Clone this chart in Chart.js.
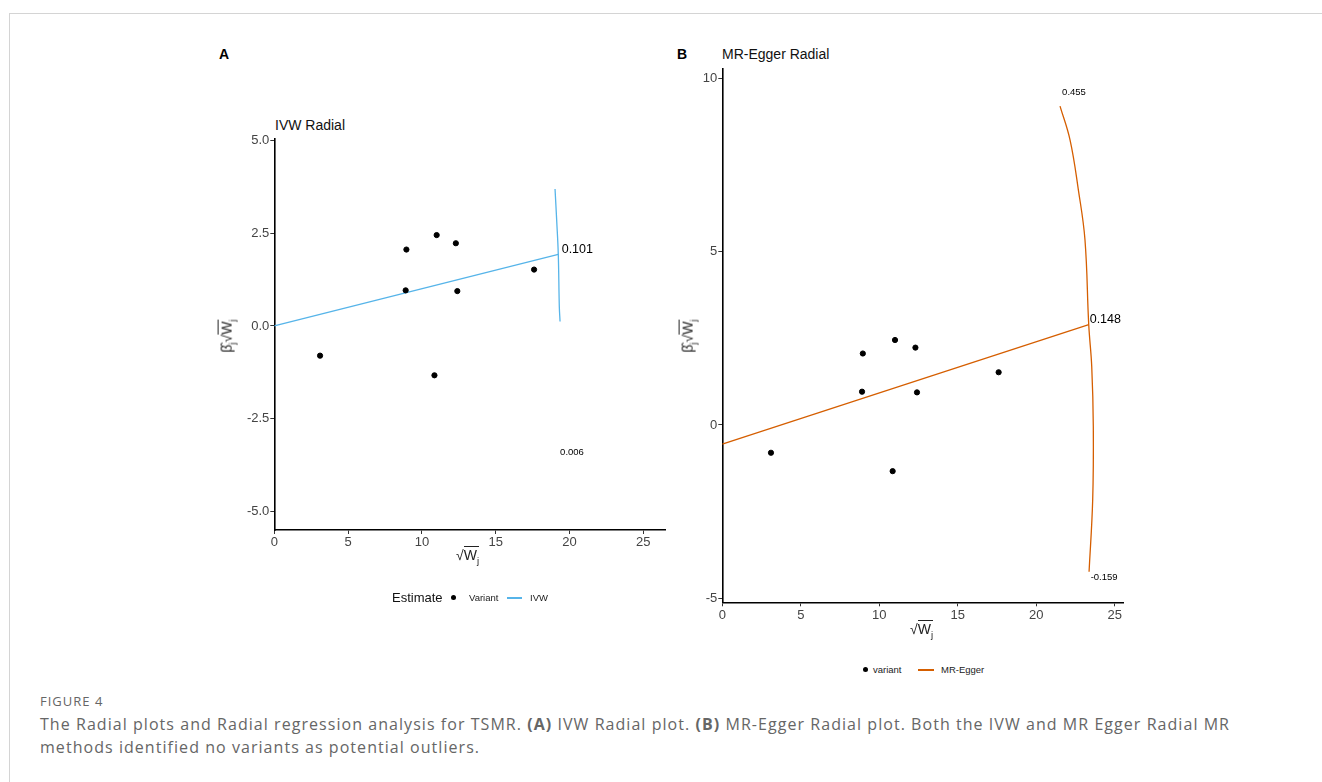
<!DOCTYPE html>
<html>
<head>
<meta charset="utf-8">
<script src="https://cdn.jsdelivr.net/npm/chart.js@4.4.1/dist/chart.umd.min.js"></script>
<style>
  body { margin: 0; background: #fff; font-family: "Liberation Sans", Arial, sans-serif; }
  #page { position: relative; width: 1322px; height: 782px; overflow: hidden; }
  .frame-top { position: absolute; left: 10px; top: 13px; right: 0; height: 1px; background: #d4d4d4; }
  .frame-left { position: absolute; left: 9px; top: 13px; bottom: 0; width: 1px; background: #d4d4d4; }
  canvas { position: absolute; }
  .txt { position: absolute; white-space: nowrap; color: #000; }
  .panel-tag { font-weight: bold; font-size: 14px; }
  .ptitle { font-size: 14px; color: #111; }
  .axt { font-size: 14px; color: #222; }
  .ov { border-top: 1px solid #222; }
  .axt sub { font-size: 9.5px; }
  .ytitle { transform: translate(-50%, -50%) rotate(-90deg); }
  .leg { font-size: 9.5px; color: #222; }
  .legtitle { font-size: 13px; color: #111; }
  .dot { position: absolute; width: 5px; height: 5px; border-radius: 50%; background: #000; }
  .seg { position: absolute; height: 1.5px; }
  .cap { position: absolute; left: 40px; font-family: "Open Sans", sans-serif; color: #666; }
</style>
</head>
<body>
<div id="page">
  <div class="frame-top"></div>
  <div class="frame-left"></div>

  <div class="txt panel-tag" style="left:219px; top:46px;">A</div>
  <div class="txt panel-tag" style="left:677px; top:46px;">B</div>
  <div class="txt ptitle" style="left:275px; top:117px;">IVW Radial</div>
  <div class="txt ptitle" style="left:722px; top:46px;">MR-Egger Radial</div>

  <canvas id="chartA" width="480" height="450" style="left:200px; top:100px;"></canvas>
  <canvas id="chartB" width="480" height="580" style="left:660px; top:40px;"></canvas>

  <!-- axis titles -->
  <div class="txt axt" style="left:456px; top:547px;">&radic;<span class="ov">W<sub>j</sub></span></div>
  <div class="txt axt" style="left:910px; top:621px;">&radic;<span class="ov">W<sub>j</sub></span></div>
  <div class="txt axt ytitle" style="left:228px; top:336px;">&beta;&#770;<sub>j</sub>&radic;<span class="ov">W<sub>j</sub></span></div>
  <div class="txt axt ytitle" style="left:689px; top:336px;">&beta;&#770;<sub>j</sub>&radic;<span class="ov">W<sub>j</sub></span></div>

  <!-- legends -->
  <div class="txt legtitle" style="left:392px; top:590px;">Estimate</div>
  <div class="dot" style="left:451px; top:595px;"></div>
  <div class="txt leg" style="left:469px; top:592px;">Variant</div>
  <div class="seg" style="left:507px; top:597px; width:15px; background:#56B4E9;"></div>
  <div class="txt leg" style="left:530px; top:592px;">IVW</div>

  <div class="dot" style="left:863px; top:667px;"></div>
  <div class="txt leg" style="left:873px; top:664px;">variant</div>
  <div class="seg" style="left:918px; top:669px; width:16px; background:#D55E00;"></div>
  <div class="txt leg" style="left:941px; top:664px;">MR-Egger</div>

  <div class="cap" style="top:692px; font-size:13px; letter-spacing:1px;">FIGURE 4</div>
  <div class="cap" style="top:713px; font-size:16px; line-height:23px; letter-spacing:1.05px; width:1270px;">The Radial plots and Radial regression analysis for TSMR. <b>(A)</b> IVW Radial plot. <b>(B)</b> MR-Egger Radial plot. Both the IVW and MR Egger Radial MR<br>methods identified no variants as potential outliers.</div>
</div>

<script>
// variant estimates (sqrt(W_j), beta_j * sqrt(W_j))
const sqrtW = [3.1, 8.9, 8.95, 10.85, 11.0, 12.3, 12.4, 17.6];
const betaSqrtW = [-0.8, 0.96, 2.06, -1.33, 2.45, 2.23, 0.94, 1.52];

// IVW fit line and its arc
const ivwLineX = [0, 19.24];
const ivwLineY = [0, 1.93];
const ivwArcX = [19.02, 19.13, 19.24, 19.31, 19.36];
const ivwArcY = [3.69, 2.86, 1.93, 0.52, 0.12];

// MR-Egger fit line and its arc
const eggerLineX = [0, 23.34];
const eggerLineY = [-0.55, 2.89];
const eggerArcX = [21.51, 22.15, 22.68, 23.10, 23.34, 23.53, 23.63, 23.59, 23.36];
const eggerArcY = [9.19, 8.21, 6.77, 5.33, 2.88, 1.68, -0.05, -2.16, -4.23];

// tick labels
const xTicks = [0, 5, 10, 15, 20, 25];
const yTicksA = [-5, -2.5, 0, 2.5, 5];
const yTicksB = [-5, 0, 5, 10];

// estimate labels printed on the plots
const notesA = [
    { text: '0.101', x: 19.47, y: 2.05, size: 12.5, align: 'left' },
    { text: '0.006', x: 20.17, y: -3.41, size: 9.5, align: 'center' }
];
const notesB = [
    { text: '0.455', x: 22.4, y: 9.59, size: 9.5, align: 'center' },
    { text: '0.148', x: 23.4, y: 3.03, size: 12.5, align: 'left' },
    { text: '-0.159', x: 24.32, y: -4.4, size: 9.5, align: 'center' }
];

const zip = (xs, ys) => xs.map((x, i) => ({ x: x, y: ys[i] }));

// draws the small number labels at data coordinates
const notesPlugin = {
    id: 'notes',
    afterDatasetsDraw(chart, args, opts) {
        const ctx = chart.ctx;
        const xs = chart.scales.x, ys = chart.scales.y;
        ctx.save();
        ctx.fillStyle = '#000';
        ctx.textBaseline = 'middle';
        (opts.items || []).forEach(n => {
            ctx.font = n.size + 'px "Liberation Sans", Arial, sans-serif';
            ctx.textAlign = n.align;
            ctx.fillText(n.text, xs.getPixelForValue(n.x), ys.getPixelForValue(n.y));
        });
        ctx.restore();
    }
};

function makePanel(id, cfg) {
    const tickFont = { family: '"Liberation Sans", Arial, sans-serif', size: 13 };
    return new Chart(document.getElementById(id), {
        type: 'scatter',
        data: {
            datasets: [{
                label: 'Variant',
                data: zip(sqrtW, betaSqrtW),
                backgroundColor: '#000',
                borderColor: '#000',
                pointRadius: 2.6,
                order: 0
            }, {
                type: 'line',
                data: zip(cfg.lineX, cfg.lineY),
                borderColor: cfg.color,
                borderWidth: 1.3,
                pointRadius: 0,
                fill: false,
                order: 1
            }, {
                type: 'line',
                data: zip(cfg.arcX, cfg.arcY),
                borderColor: cfg.color,
                borderWidth: 1.3,
                pointRadius: 0,
                tension: 0.4,
                fill: false,
                order: 1
            }]
        },
        options: {
            responsive: false,
            animation: false,
            layout: { padding: cfg.padding },
            plugins: {
                legend: { display: false },
                tooltip: { enabled: false },
                notes: { items: cfg.notes }
            },
            scales: {
                x: {
                    type: 'linear',
                    min: 0,
                    max: cfg.xMax,
                    afterFit: s => { s.height = cfg.xAxisHeight; },
                    afterBuildTicks: s => { s.ticks = xTicks.map(v => ({ value: v })); },
                    border: { display: true, color: '#000', width: 1.6 },
                    grid: { drawOnChartArea: false, drawTicks: true, tickLength: 4, color: '#333' },
                    ticks: { font: tickFont, color: '#444', padding: 1, maxRotation: 0, autoSkip: false }
                },
                y: {
                    type: 'linear',
                    min: cfg.yMin,
                    max: cfg.yMax,
                    afterFit: s => { s.width = cfg.yAxisWidth; },
                    afterBuildTicks: s => { s.ticks = cfg.yTicks.map(v => ({ value: v })); },
                    border: { display: true, color: '#000', width: 1.6 },
                    grid: { drawOnChartArea: false, drawTicks: true, tickLength: 4, color: '#333' },
                    ticks: { font: tickFont, color: '#444', padding: 1, autoSkip: false, callback: cfg.fmt }
                }
            }
        },
        plugins: [notesPlugin]
    });
}

makePanel('chartA', {
    lineX: ivwLineX, lineY: ivwLineY, arcX: ivwArcX, arcY: ivwArcY,
    color: '#56B4E9', notes: notesA,
    xMax: 26.47, yMin: -5.5, yMax: 5.04,
    yTicks: yTicksA, fmt: v => v.toFixed(1),
    padding: { left: 0, right: 15, top: 39, bottom: 0 },
    yAxisWidth: 74.3, xAxisHeight: 20
});

makePanel('chartB', {
    lineX: eggerLineX, lineY: eggerLineY, arcX: eggerArcX, arcY: eggerArcY,
    color: '#D55E00', notes: notesB,
    xMax: 25.54, yMin: -5.11, yMax: 10.28,
    yTicks: yTicksB, fmt: v => String(v),
    padding: { left: 0, right: 16.7, top: 28.3, bottom: 0 },
    yAxisWidth: 62.3, xAxisHeight: 17.7
});
</script>
</body>
</html>
